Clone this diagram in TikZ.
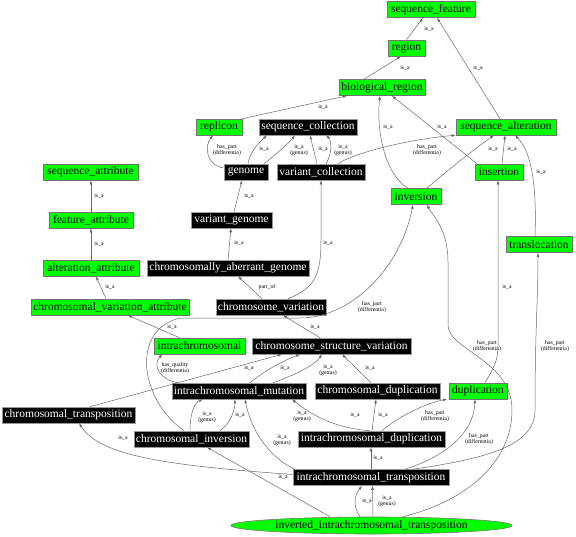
\documentclass[tikz,border=0pt]{standalone}
\usepackage{fontspec}
\setmainfont{Liberation Serif}
\usetikzlibrary{arrows.meta,shapes.geometric}
\definecolor{ngreen}{RGB}{0,255,0}
\begin{document}
\begin{tikzpicture}[x=1pt,y=-1pt,
  box/.style={rectangle, minimum height=16pt, inner xsep=1pt, inner ysep=0pt, font=\fontsize{11.5}{12}\selectfont, line width=0.6pt},
  gbox/.style={box, fill=ngreen, draw=black!55},
  bbox/.style={box, fill=black, text=white, draw=black!40},
  e/.style={draw=black!60, line width=0.5pt, -{Latex[length=4pt,width=2.8pt]}},
  lbl/.style={font=\fontsize{5.8}{5.6}\selectfont, align=center, inner sep=0pt}
]
\useasboundingbox (0,0) rectangle (576,536);
% nodes
\node[gbox, minimum width=88pt] (sf) at (431,9.5) {sequence\_feature};
\node[gbox, minimum width=37pt] (rg) at (406.5,48) {region};
\node[gbox, minimum width=86pt] (br) at (382,87.5) {biological\_region};
\node[gbox, minimum width=46pt] (rep) at (219,127) {replicon};
\node[bbox, minimum width=98pt] (sc) at (308,127) {sequence\_collection};
\node[gbox, minimum width=100pt] (sa) at (506,127) {sequence\_alteration};
\node[bbox, minimum width=44pt] (gen) at (246,172) {genome};
\node[bbox, minimum width=88pt] (vc) at (321,172) {variant\_collection};
\node[gbox, minimum width=48pt] (ins) at (499,172) {insertion};
\node[gbox, minimum width=50pt] (inv) at (416,196.5) {inversion};
\node[gbox, minimum width=66pt] (tl) at (539,244.5) {translocation};
\node[gbox, minimum width=95pt] (sat) at (90.5,172) {sequence\_attribute};
\node[gbox, minimum width=84pt] (fa) at (91,220) {feature\_attribute};
\node[gbox, minimum width=96pt] (aa) at (91,268) {alteration\_attribute};
\node[gbox, minimum width=158pt] (cva) at (110,307) {chromosomal\_variation\_attribute};
\node[bbox, minimum width=81pt] (vg) at (231.5,220) {variant\_genome};
\node[bbox, minimum width=162pt] (cag) at (228,268) {chromosomally\_aberrant\_genome};
\node[bbox, minimum width=110pt] (cv) at (271,307) {chromosome\_variation};
\node[gbox, minimum width=91pt] (ic) at (199.5,346) {intrachromosomal};
\node[bbox, minimum width=159pt] (csv) at (331.5,346) {chromosome\_structure\_variation};
\node[bbox, minimum width=134pt] (ims) at (239,391) {intrachromosomal\_mutation};
\node[bbox, minimum width=125pt] (cd) at (377.5,391) {chromosomal\_duplication};
\node[gbox, minimum width=58pt] (dup) at (478,391) {duplication};
\node[bbox, minimum width=133pt] (ct) at (68.5,415) {chromosomal\_transposition};
\node[bbox, minimum width=115pt] (ci) at (191.5,439) {chromosomal\_inversion};
\node[bbox, minimum width=147pt] (ind) at (371.5,439) {intrachromosomal\_duplication};
\node[bbox, minimum width=156pt] (itr) at (371,477.5) {intrachromosomal\_transposition};
\node[ellipse, fill=ngreen, draw=black!55, line width=0.6pt, minimum width=281pt, minimum height=17pt, inner sep=0pt, font=\fontsize{11.5}{12}\selectfont] (iit) at (371.5,525.5) {inverted\_intrachromosomal\_transposition};
% edges
\draw[e] (rg.north) -- ([xshift=-8pt]sf.south);
\draw[e] ([xshift=-18pt]br.north) -- ([xshift=-5.5pt]rg.south);
\draw[e] ([xshift=-6pt]sa.north) -- ([xshift=6pt]sf.south);
\draw[e] (rep.north east) -- ([xshift=-35pt]br.south);
\draw[e] ([yshift=4pt]gen.west) .. controls (205,165) and (205,145) .. ([xshift=-6pt]rep.south);
\draw[e] ([xshift=2pt]gen.north) .. controls (250,150) and (262,140) .. ([xshift=-41pt]sc.south);
\draw[e] ([xshift=-4pt]gen.north east) .. controls (275,155) and (290,142) .. ([xshift=-13pt]sc.south);
\draw[e] ([xshift=-4pt]vc.north) -- ([xshift=2pt]sc.south);
\draw[e] ([xshift=5pt]vc.north) .. controls (333,152) and (331,140) .. ([xshift=18pt]sc.south);
\draw[e] ([xshift=17pt]vc.north) .. controls (360,150) and (420,138) .. (sa.south west);
\draw[e] ([xshift=-8pt]inv.north) .. controls (385,175) and (376,130) .. ([xshift=-2pt]br.south);
\draw[e] ([xshift=-22pt]ins.north) -- ([xshift=10pt]br.south);
\draw[e] ([xshift=11pt]inv.north) .. controls (450,168) and (480,145) .. ([xshift=-12pt]sa.south);
\draw[e] ([xshift=3pt]ins.north) -- ([xshift=-1pt]sa.south);
\draw[e] ([xshift=-4pt]tl.north) .. controls (537,180) and (530,150) .. ([xshift=9pt]sa.south);
\draw[e] (fa.north) -- (fa.north |- sat.south);
\draw[e] (aa.north) -- (aa.north |- fa.south);
\draw[e] ([xshift=-4pt]cva.north) -- ([xshift=5pt]aa.south);
\draw[e] ([xshift=2.5pt]vg.north) -- ([xshift=-4pt]gen.south);
\draw[e] (cag.north) -- ([xshift=-0.5pt]vg.south);
\draw[e] ([xshift=-9pt]cv.north) -- ([xshift=10pt]cag.south);
\draw[e] ([xshift=17pt]cv.north) .. controls (315,288) and (321,275) .. (321,240) -- (vc.south);
\draw[e] ([xshift=-20pt]ic.north) -- ([xshift=18pt]cva.south);
\draw[e] ([xshift=-11.5pt]csv.north) -- ([xshift=12pt]cv.south);
\draw[e] ([xshift=21.5pt]ct.north) -- ([xshift=-49.5pt]csv.south);
\draw[e] ([xshift=11pt]ims.north) .. controls (265,370) and (285,360) .. ([xshift=-31.5pt]csv.south);
\draw[e] ([xshift=34pt]ims.north) .. controls (295,375) and (315,365) .. ([xshift=-9.5pt]csv.south);
\draw[e] ([xshift=-6.5pt]cd.north) -- ([xshift=10.5pt]csv.south);
\draw[e] ([xshift=6pt]ims.north west) .. controls (160,380) and (152,365) .. ([xshift=-37pt]ic.south);
\draw[e] ([xshift=-1.5pt]ci.north) .. controls (190,410) and (196,402) .. ([xshift=-36pt]ims.south);
\draw[e] ([xshift=28.5pt]ci.north) .. controls (230,424) and (235,410) .. ([xshift=-4pt]ims.south);
\draw[e] ([xshift=2pt]itr.north west) .. controls (265,455) and (250,425) .. ([xshift=6pt]ims.south);
\draw[e] ([xshift=-1.5pt]ind.north) .. controls (330,428) and (305,410) .. ([xshift=53pt]ims.south);
\draw[e] ([xshift=0.5pt]ind.north) -- ([xshift=-1.5pt]cd.south);
\draw[e] ([xshift=10.5pt]ind.north) .. controls (400,415) and (430,402) .. ([xshift=-31pt]dup.south);
\draw[e] (itr.north) -- (itr.north |- ind.south);
\draw[e] ([xshift=34pt]itr.north) .. controls (450,455) and (474,430) .. ([xshift=-3pt]dup.south);
\draw[e] ([xshift=42pt]itr.north) .. controls (490,458) and (535,445) .. (535,410) .. controls (535,330) and (538,300) .. ([xshift=-1pt]tl.south);
\draw[e] ([yshift=3pt]itr.west) .. controls (160,465) and (100,455) .. ([xshift=10.5pt]ct.south);
\draw[e] ([xshift=-11.5pt]iit.north) .. controls (352,505) and (355,495) .. ([xshift=-9pt]itr.south);
\draw[e] ([xshift=1.5pt]iit.north) -- ([xshift=1.5pt]itr.south);
\draw[e] ([xshift=-41.5pt]iit.north) -- ([xshift=15.5pt]ci.south);
\draw[e] ([xshift=31.5pt]iit.north) .. controls (470,500) and (512,460) .. (512,410) .. controls (512,360) and (448,350) .. (448,325) -- (448,262) .. controls (448,228) and (432,215) .. ([xshift=11pt]inv.south);
\draw[e] ([xshift=-7.5pt]ci.north) .. controls (140,400) and (130,330) .. (180,318) -- (300,318) .. controls (350,318) and (400,270) .. ([xshift=-3pt]inv.south);
\draw[e] ([xshift=7pt]dup.north) .. controls (495,366) and (498,360) .. (498,345) -- ([xshift=-1pt]ins.south);
% labels
\node[lbl] (l1) at (429,29) {is\_a};
\node[lbl] (l2) at (405,68) {is\_a};
\node[lbl] (l3) at (478,68) {is\_a};
\node[lbl] (l4) at (323,107) {is\_a};
\node[lbl] (l5) at (227,150) {has\_part\\(differentia)};
\node[lbl] (l6) at (264,149) {is\_a};
\node[lbl] (l7) at (299,150) {is\_a\\(genus)};
\node[lbl] (l8) at (323,149) {is\_a};
\node[lbl] (l9) at (343,150) {is\_a\\(genus)};
\node[lbl] (l10) at (427,150) {has\_part\\(differentia)};
\node[lbl] (l11) at (388,127) {is\_a};
\node[lbl] (l12) at (442,127) {is\_a};
\node[lbl] (l13) at (493,149) {is\_a};
\node[lbl] (l14) at (512,149) {is\_a};
\node[lbl] (l15) at (541,172) {is\_a};
\node[lbl] (l16) at (99,196) {is\_a};
\node[lbl] (l17) at (99,244) {is\_a};
\node[lbl] (l18) at (110,287) {is\_a};
\node[lbl] (l19) at (249,196) {is\_a};
\node[lbl] (l20) at (239,243) {is\_a};
\node[lbl] (l21) at (267,287) {part\_of};
\node[lbl] (l22) at (328,243) {is\_a};
\node[lbl] (l23) at (172,327) {is\_a};
\node[lbl] (l24) at (315,327) {is\_a};
\node[lbl] (l25) at (372,307) {has\_part\\(differentia)};
\node[lbl] (l26) at (249,368) {is\_a};
\node[lbl] (l27) at (285,368) {is\_a};
\node[lbl] (l28) at (328,370) {is\_a\\(genus)};
\node[lbl] (l29) at (370,368) {is\_a};
\node[lbl] (l30) at (175,368) {has\_quality\\(differentia)};
\node[lbl] (l31) at (207,417) {is\_a\\(genus)};
\node[lbl] (l32) at (240,415) {is\_a};
\node[lbl] (l33) at (302,416) {is\_a\\(genus)};
\node[lbl] (l34) at (355,415) {is\_a};
\node[lbl] (l35) at (383,415) {is\_a};
\node[lbl] (l36) at (435,416) {has\_part\\(differentia)};
\node[lbl] (l37) at (282,440) {is\_a\\(genus)};
\node[lbl] (l38) at (378,458) {is\_a};
\node[lbl] (l39) at (479,439) {has\_part\\(differentia)};
\node[lbl] (l40) at (123,438) {is\_a};
\node[lbl] (l41) at (283,477) {is\_a};
\node[lbl] (l42) at (367,501) {is\_a};
\node[lbl] (l43) at (387,501) {is\_a\\(genus)};
\node[lbl] (l44) at (487,346) {has\_part\\(differentia)};
\node[lbl] (l45) at (555,346) {has\_part\\(differentia)};
\node[lbl] (l46) at (507,287) {is\_a};
\end{tikzpicture}
\end{document}
